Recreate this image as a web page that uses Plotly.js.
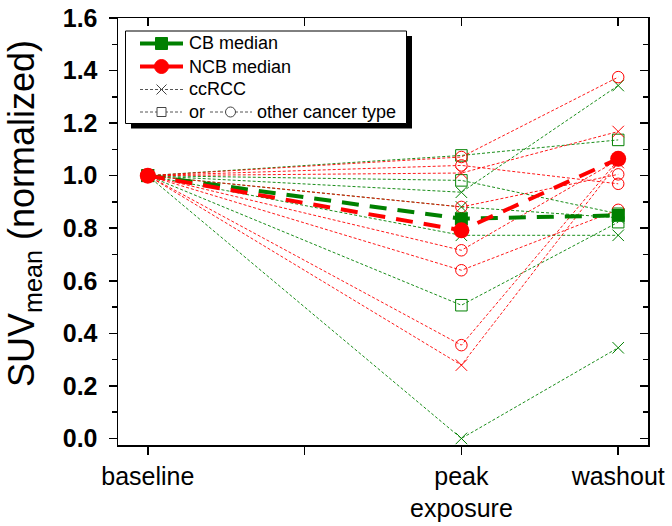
<!DOCTYPE html>
<html>
<head>
<meta charset="utf-8">
<script src="https://cdn.plot.ly/plotly-3.0.1.min.js"></script>
<style>html,body{margin:0;padding:0;background:#fff;}#chart{width:672px;height:526px;}</style>
</head>
<body>
<div id="chart"></div>
<script>
// ---- data ----
const tickPositions = [0, 2, 3];
const tickLabels = ['baseline', 'peak<br>exposure', 'washout'];
const timeX = [0, 2, 3]; // baseline, peak exposure, washout

const baselineValue = 1.0;
// CB (clinical benefit) patients
const cbOtherPeak = [1.077, 0.982, 0.507];
const cbOtherWash = [1.136, 0.855, 0.823];
const cbRccPeak = [0.937, 0.881, 0.773, 0.0];
const cbRccWash = [1.343, 0.840, 0.773, 0.345];
// NCB (no clinical benefit) patients
const ncbOtherPeak = [1.071, 1.039, 0.881, 0.716, 0.640, 0.355];
const ncbOtherWash = [1.375, 0.969, 1.005, 1.060, 0.870, 1.060];
const ncbRccPeak = [1.010, 0.279];
const ncbRccWash = [1.168, 1.050];
// medians
const cbMedian = [1.0, 0.836, 0.849];
const ncbMedian = [1.0, 0.792, 1.064];

// ---- styles ----
const GREEN = '#008000';
const RED = '#ff0000';
const FONT = 'Liberation Sans, Arial, sans-serif';

const traces = [];
function addPatients(peaks, washes, color, symbol) {
  peaks.forEach((p, i) => {
    traces.push({
      x: timeX, y: [baselineValue, p, washes[i]],
      type: 'scatter', mode: 'lines+markers', showlegend: false, hoverinfo: 'skip',
      line: {color: color, width: 0.9, dash: '3px,2px'},
      marker: {symbol: symbol, size: 11.5, color: color, line: {color: color, width: 1}}
    });
  });
}
addPatients(cbOtherPeak, cbOtherWash, GREEN, 'square-open');
addPatients(cbRccPeak, cbRccWash, GREEN, 'x-thin-open');
addPatients(ncbOtherPeak, ncbOtherWash, RED, 'circle-open');
addPatients(ncbRccPeak, ncbRccWash, RED, 'x-thin-open');

traces.push({
  x: timeX, y: cbMedian, name: 'CB median', type: 'scatter', mode: 'lines+markers', showlegend: false,
  line: {color: GREEN, width: 4, dash: '17px,11px'},
  marker: {symbol: 'square', size: 13, color: GREEN}
});
traces.push({
  x: timeX, y: ncbMedian, name: 'NCB median', type: 'scatter', mode: 'lines+markers', showlegend: false,
  line: {color: RED, width: 4, dash: '17px,11px'},
  marker: {symbol: 'circle', size: 16, color: RED}
});
// empty trace to carry the mirrored (inward-tick) axes
traces.push({x: [], y: [], xaxis: 'x2', yaxis: 'y2', showlegend: false, hoverinfo: 'skip', type: 'scatter'});

// ---- layout geometry (pixels) ----
const PL = 118, PR = 648, PT = 18, PB = 445;
const fx = p => (p - PL) / (PR - PL);
const fy = p => (PB - p) / (PB - PT);

const xRange = [-0.19, 3.19];
const yRange = [-0.025, 1.6];

const shapes = [];
const annotations = [];
// legend frame with shadow
shapes.push({type: 'rect', xref: 'paper', yref: 'paper', x0: fx(131), x1: fx(412), y0: fy(128.5), y1: fy(36), fillcolor: '#000', line: {width: 0}});
shapes.push({type: 'rect', xref: 'paper', yref: 'paper', x0: fx(125.5), x1: fx(406.5), y0: fy(123.5), y1: fy(31), fillcolor: '#fff', line: {color: '#000', width: 1}});

function lineSample(x0, x1, yy, color, width, dash) {
  shapes.push({type: 'line', xref: 'paper', yref: 'paper', x0: fx(x0), x1: fx(x1), y0: fy(yy), y1: fy(yy), line: {color: color, width: width, dash: dash}});
}
function markSample(kind, cx, cy, r, color, filled) {
  const base = {xref: 'paper', yref: 'paper', xsizemode: 'pixel', ysizemode: 'pixel', xanchor: fx(cx), yanchor: fy(cy),
                line: {color: color, width: 1}, fillcolor: filled ? color : '#fff'};
  if (kind === 'x') {
    shapes.push(Object.assign(base, {type: 'path', path: `M${-r},${-r}L${r},${r}M${-r},${r}L${r},${-r}`, fillcolor: 'rgba(0,0,0,0)'}));
  } else {
    shapes.push(Object.assign(base, {type: kind, x0: -r, x1: r, y0: -r, y1: r}));
  }
}
function label(text, x, yy) {
  annotations.push({text: text, xref: 'paper', yref: 'paper', x: fx(x), y: fy(yy), xanchor: 'left', yanchor: 'middle',
    showarrow: false, font: {family: FONT, size: 18, color: '#000'}, borderpad: 0});
}
const rows = [43.5, 66.5, 89.5, 112];
lineSample(140, 183, rows[0], GREEN, 4, 'solid'); markSample('rect', 161.5, rows[0], 6, GREEN, true); label('CB median', 188, rows[0]);
lineSample(140, 183, rows[1], RED, 4, 'solid'); markSample('circle', 161.5, rows[1], 7, RED, true); label('NCB median', 188, rows[1]);
lineSample(140, 183, rows[2], '#555', 1, '3px,2px'); markSample('x', 161.5, rows[2], 5, '#444', false); label('ccRCC', 188, rows[2]);
lineSample(140, 182, rows[3], '#555', 1, '3px,2px'); markSample('rect', 161.5, rows[3], 4.5, '#444', false); label('or', 188, rows[3]);
lineSample(210, 252, rows[3], '#555', 1, '3px,2px'); markSample('circle', 230.5, rows[3], 5, '#444', false); label('other cancer type', 256, rows[3]);

// y-axis title placed as rotated text
annotations.push({text: 'SUV<sub>mean</sub> (normalized)', xref: 'paper', yref: 'paper', x: fx(24), y: fy(214),
  xanchor: 'center', yanchor: 'middle', textangle: -90, showarrow: false,
  font: {family: FONT, size: 36, color: '#000'}});

const layout = {
  width: 672, height: 526,
  margin: {l: PL, r: 672 - PR, t: PT, b: 526 - PB, pad: 0},
  paper_bgcolor: '#fff', plot_bgcolor: '#fff',
  showlegend: false,
  font: {family: FONT, color: '#000'},
  xaxis: {
    range: xRange, tickvals: tickPositions, ticktext: tickLabels,
    ticks: 'outside', ticklen: 8, tickwidth: 1.5, tickcolor: '#000',
    minor: {tick0: 0, dtick: 1, ticks: 'outside', ticklen: 8, tickwidth: 1.5, tickcolor: '#000'},
    showline: true, linecolor: '#000', linewidth: 1.5, mirror: true,
    showgrid: false, zeroline: false, automargin: false,
    tickfont: {family: FONT, size: 25, color: '#000'}
  },
  yaxis: {
    range: yRange, tick0: 0, dtick: 0.2, tickformat: '.1f',
    ticks: 'outside', ticklen: 8, tickwidth: 1.5, tickcolor: '#000',
    minor: {dtick: 0.1, tick0: 0, ticks: 'outside', ticklen: 5, tickwidth: 1.5, tickcolor: '#000'},
    showline: true, linecolor: '#000', linewidth: 1.5, mirror: true,
    showgrid: false, zeroline: false, automargin: false, ticklabelstandoff: 6,
    tickfont: {family: FONT, size: 25, color: '#000', weight: 'bold'}
  },
  xaxis2: {
    overlaying: 'x', side: 'top', anchor: 'y2', range: xRange, tick0: 0, dtick: 1,
    ticks: 'inside', ticklen: 8, tickwidth: 1.5, tickcolor: '#000',
    showticklabels: false, showline: false, showgrid: false, zeroline: false
  },
  yaxis2: {
    overlaying: 'y', side: 'right', anchor: 'x2', range: yRange, tick0: 0, dtick: 0.2,
    ticks: 'inside', ticklen: 8, tickwidth: 1.5, tickcolor: '#000',
    minor: {dtick: 0.1, tick0: 0, ticks: 'inside', ticklen: 5, tickwidth: 1.5, tickcolor: '#000'},
    showticklabels: false, showline: false, showgrid: false, zeroline: false
  },
  shapes: shapes,
  annotations: annotations
};

Plotly.newPlot('chart', traces, layout, {displayModeBar: false, staticPlot: true});
</script>
</body>
</html>
